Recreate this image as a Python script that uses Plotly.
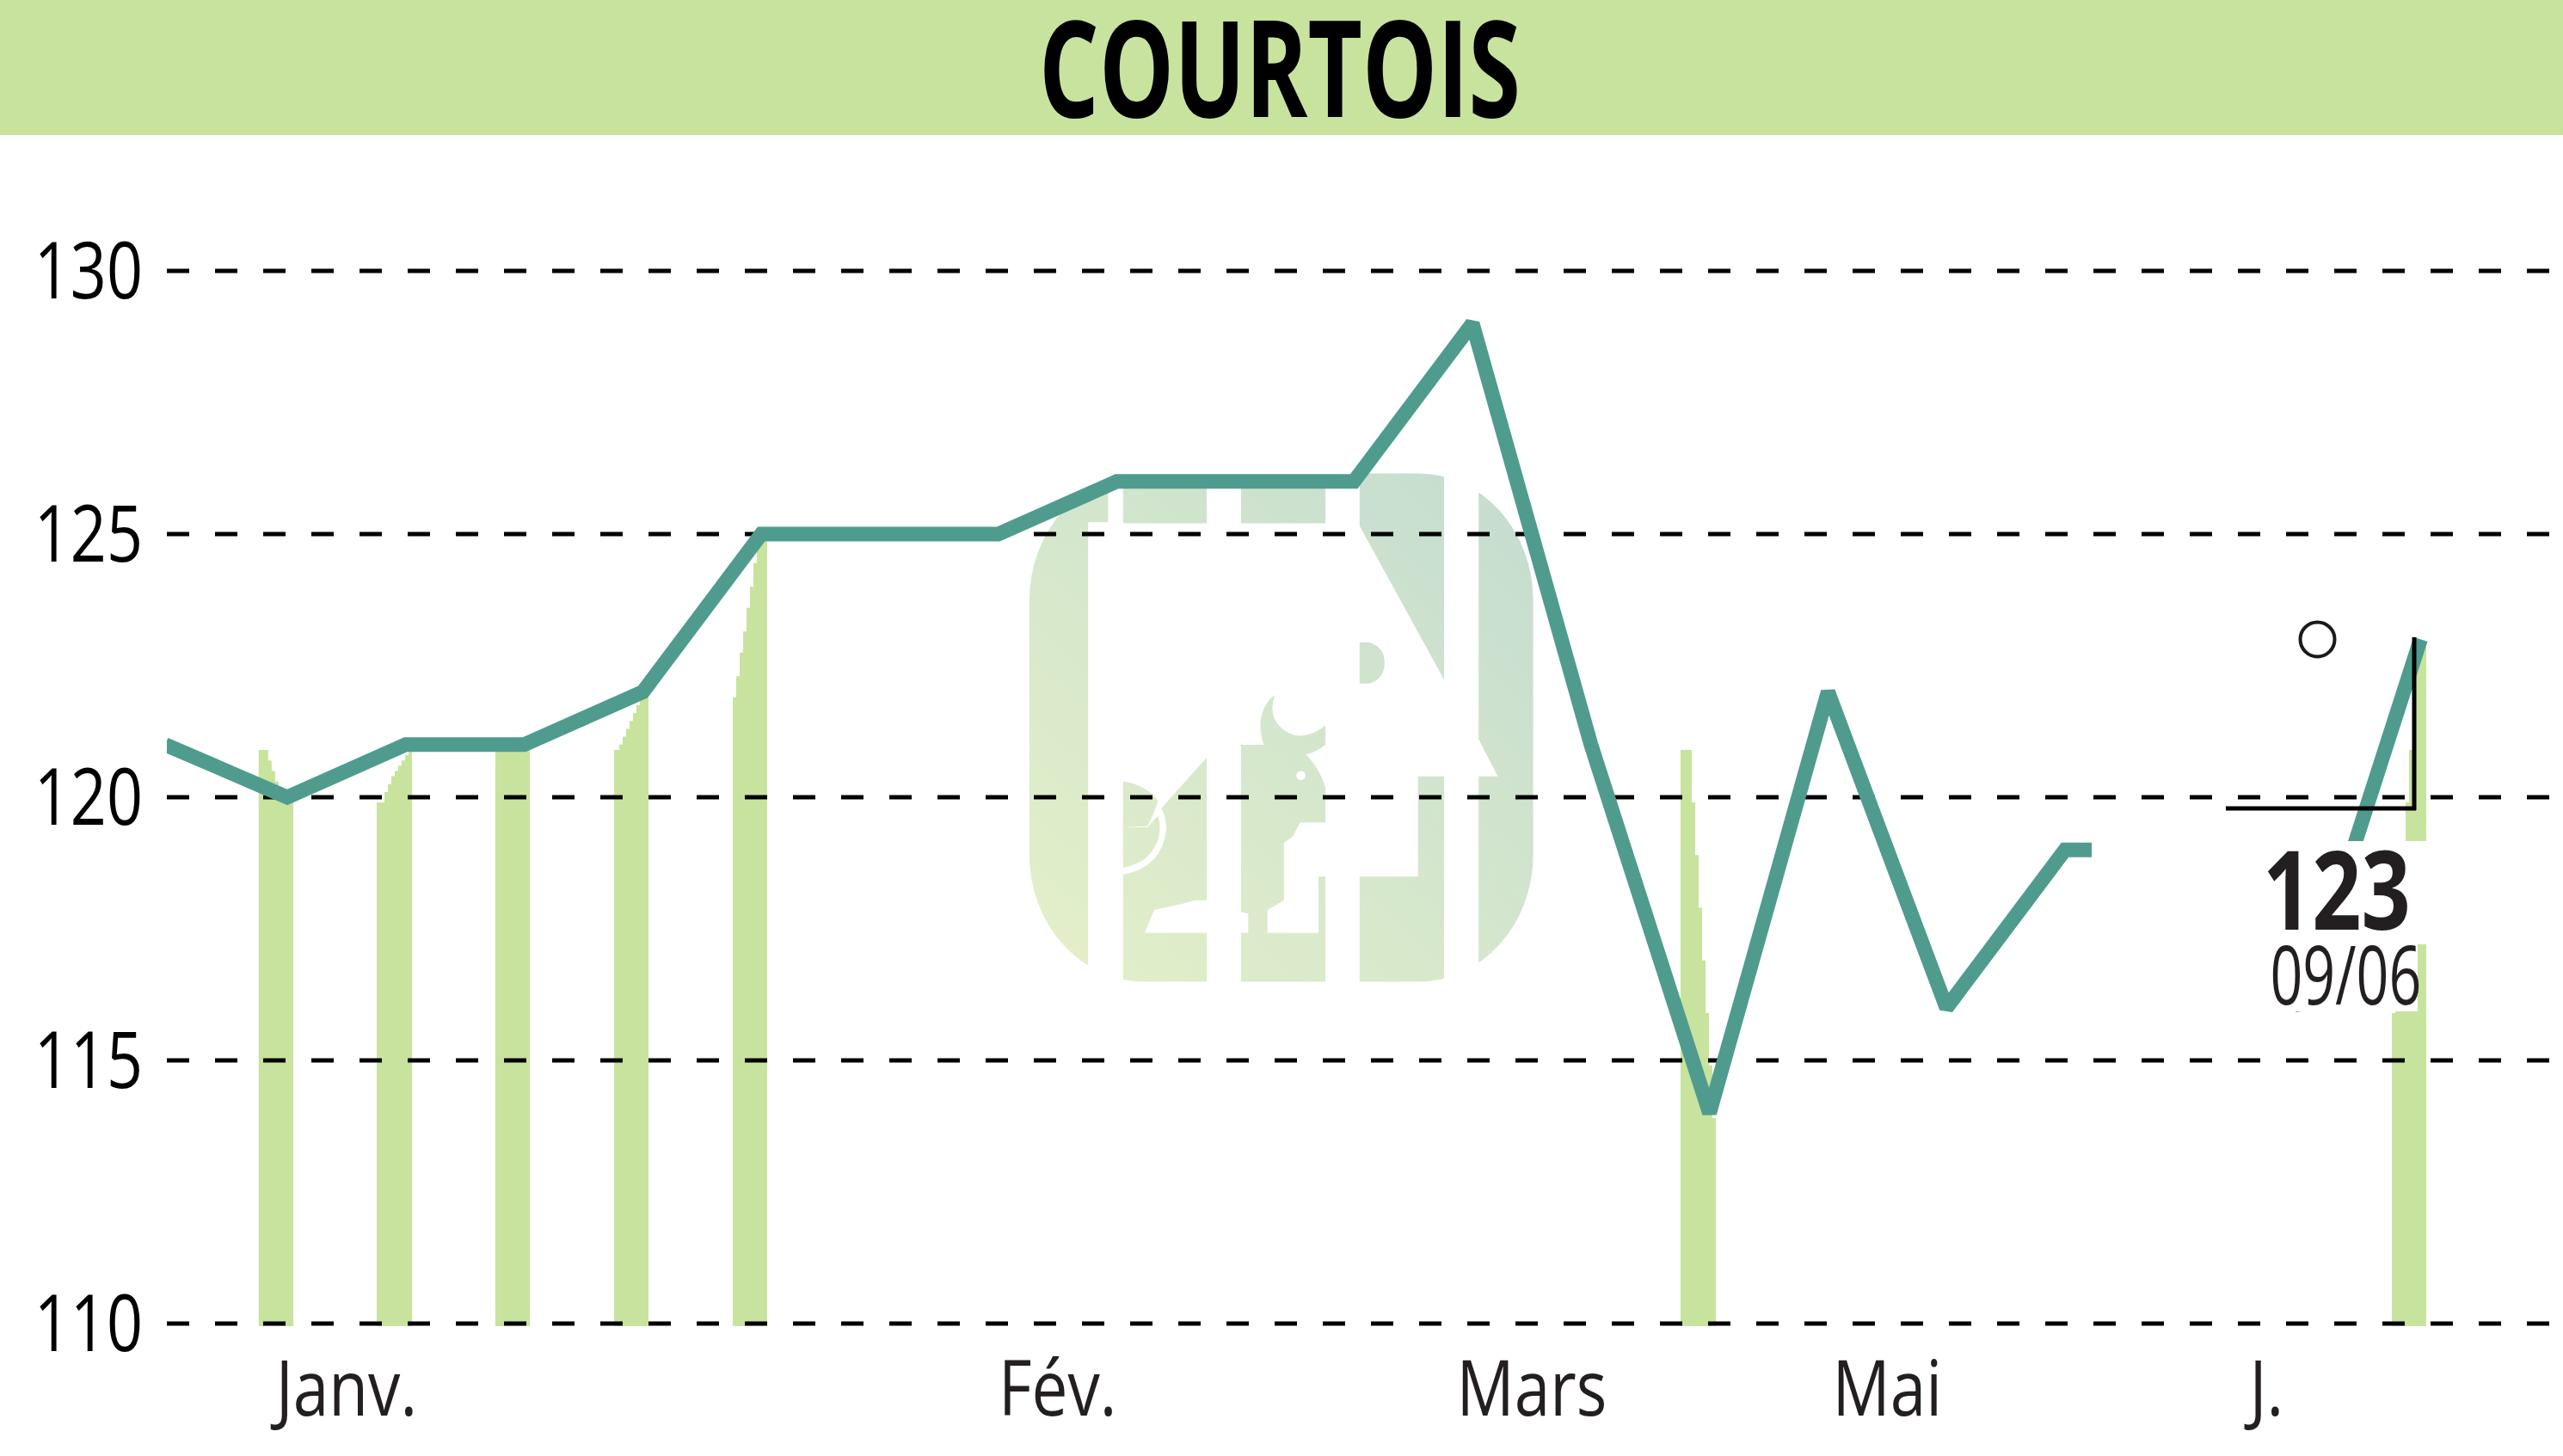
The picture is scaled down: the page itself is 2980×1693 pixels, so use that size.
import base64
import plotly.graph_objects as go

# ---- data ----
title_text = "COURTOIS"
line_index = [-0.03] + list(range(1, 20))
line_values = [121, 120, 121, 121, 122, 125, 125, 125, 126, 126, 126, 129, 121, 114, 122, 116, 119, 119, 116, 123]
grid_values = [110, 115, 120, 125, 130]
month_ticks = [1.5, 7.5, 11.5, 14.5, 17.7]
month_labels = ["Janv.", "Fév.", "Mars", "Mai", "J."]
# stepped stripes under the curve: step starts (index units), step tops, stripe end
stripe_x = [
    [0.759, 0.839, 0.868, 0.898, 0.927, 0.956, 0.985],
    [1.755, 1.820, 1.849, 1.878, 1.907, 1.936, 1.965, 1.994, 2.024],
    [2.755],
    [3.758, 3.801, 3.830, 3.859, 3.888, 3.917, 3.946, 3.975, 4.004],
    [4.759, 4.788, 4.817, 4.846, 4.875, 4.904, 4.933, 4.962],
    [12.756, 12.851, 12.880, 12.909, 12.938, 12.967, 12.996, 13.025],
    [18.758, 18.787, 18.816, 18.845, 18.874, 18.903, 18.932, 18.961],
]
stripe_top = [
    [120.9, 120.7, 120.5, 120.3, 120.15, 120, 119.9],
    [119.9, 120.1, 120.25, 120.4, 120.5, 120.6, 120.7, 120.8, 121],
    [121],
    [120.9, 121, 121.15, 121.3, 121.45, 121.6, 121.75, 121.9, 122],
    [121.9, 122.3, 122.75, 123.15, 123.6, 124, 124.45, 125],
    [120.9, 119.9, 118.9, 117.9, 116.9, 115.9, 114.9, 113.9],
    [115.9, 116.9, 117.9, 118.9, 119.9, 120.9, 121.9, 122.9],
]
stripe_end = [1.051, 2.053, 3.047, 4.048, 5.049, 13.054, 19.048]
last_value = "123"
last_date = "09/06"
high_marker_x = [18.13]
high_marker_y = [123]

# ---- page geometry ----
W, H = 2980, 1693
PX0, PX_STEP = 196.2, 137.8      # pixel of index 0, pixels per index
PY110, PY_UNIT = 1539.0, 61.2    # pixel of value 110, pixels per unit
LEFT, TOP, BOTTOM = 194, 157, 1542


def X(px):
    return (px - PX0) / PX_STEP


def Y(py):
    return 110 + (PY110 - py) / PY_UNIT


xr = [X(LEFT), X(W)]
yr = [Y(BOTTOM), Y(TOP)]

GREEN = "#C8E39E"
TEAL = "#4F9C8F"
FONT = "Open Sans"

# ---- watermark as inline SVG (drawn in a 1568 box covering 700x700 px) ----
wm_path = (
    # column A
    "M0 0H258V270H258V1568H0Z "
    "M258 240H310V130H258Z "
    # column B
    "M349 150H567V243H349Z "
    "M449 985L567 853V1225L535 1225L500 1235L430 1250L405 1310H567V1568H349V1158"
    "Q450 1140 462 1040Q460 1005 449 985Z "
    "M349 915Q410 925 440 965Q430 1000 412 1032L349 1035Z "
    "M349 1035H412L440 1005Q448 1030 442 1060Q425 1125 349 1140Z "
    # column C
    "M656 150H876V243H656Z "
    "M656 820H715Q700 770 712 735Q722 705 745 690Q725 740 760 775Q810 820 876 770V820"
    "Q850 840 825 845Q860 880 876 930V1022H810L790 1060L768 1075V1225L725 1250V1310H858V1163H876V1568H656V1310"
    "H675V1260L656 1255Z "
    # column D
    "M965 0H1185V650L965 250Z "
    "M965 553H990Q1030 565 1030 605Q1030 650 990 660H965Z "
    "M965 1163H1117V902H1185V1568H965Z "
    # column E
    "M1275 0H1568V1568H1275V902H1325L1275 805Z"
)
wm_svg = f"""<svg xmlns="http://www.w3.org/2000/svg" width="1568" height="1568" viewBox="0 0 1568 1568">
<defs><linearGradient id="g" gradientUnits="userSpaceOnUse" x1="105" y1="1437" x2="1417" y2="113">
<stop offset="0" stop-color="#E4F0C8"/><stop offset="1" stop-color="#C4DCD0"/></linearGradient>
<clipPath id="c"><rect x="105" y="113" width="1312" height="1324" rx="300" ry="330"/></clipPath></defs>
<g clip-path="url(#c)"><path d="{wm_path}" fill="url(#g)"/><circle cx="812" cy="900" r="12" fill="#fff"/></g></svg>"""
wm_uri = "data:image/svg+xml;base64," + base64.b64encode(wm_svg.encode()).decode()

fig = go.Figure()

# stripes under the curve
for sx, st, se in zip(stripe_x, stripe_top, stripe_end):
    fig.add_trace(go.Scatter(
        x=[sx[0]] + sx + [se, se, sx[0]],
        y=[yr[0]] + st + [st[-1], yr[0], yr[0]],
        mode="lines", line=dict(width=0, shape="hv"), fill="toself", fillcolor=GREEN,
        hoverinfo="skip", showlegend=False,
    ))

# dashed grid above stripes, below the curve
for g in grid_values:
    fig.add_trace(go.Scatter(
        x=xr, y=[g, g], mode="lines",
        line=dict(color="#000000", width=5, dash="26px,30px"),
        hoverinfo="skip", showlegend=False,
    ))

# price line
fig.add_trace(go.Scatter(
    x=line_index, y=line_values, mode="lines",
    line=dict(color=TEAL, width=17), cliponaxis=False, showlegend=False,
))

fig.add_trace(go.Scatter(
    x=high_marker_x, y=high_marker_y, mode="markers",
    marker=dict(symbol="circle-open", size=40, color="#1a1a1a", line=dict(width=4, color="#1a1a1a")),
    showlegend=False,
))

# white mask behind the last-value text (keeps line/stripes out)
mask = (
    f"M {X(2432)} {Y(978)} L {X(2822)} {Y(978)} L {X(2822)} {Y(1098)} L {X(2811)} {Y(1098)} "
    f"L {X(2811)} {Y(1176)} L {X(2432)} {Y(1176)} Z"
)

shapes = [
    dict(type="path", path=mask, xref="x", yref="y", fillcolor="#FFFFFF", line=dict(width=0), layer="above"),
    dict(type="rect", xref="paper", yref="paper", x0=-0.2, x1=1.0, y0=1.0, y1=1.2,
         fillcolor=GREEN, line=dict(width=0), layer="above"),
    dict(type="line", xref="x", yref="y", x0=X(2807), x1=X(2807), y0=Y(741), y1=Y(942),
         line=dict(color="#000000", width=5), layer="above"),
    dict(type="line", xref="x", yref="y", x0=X(2588), x1=X(2809), y0=Y(940), y1=Y(940),
         line=dict(color="#000000", width=5), layer="above"),
]

annotations = [
    dict(text=last_value, x=X(2717), y=Y(1031), xref="x", yref="y", showarrow=False,
         font=dict(family=FONT, size=127, weight=700, color="#231F20"), xanchor="center", yanchor="middle"),
    dict(text=last_date, x=X(2727), y=Y(1130), xref="x", yref="y", showarrow=False,
         font=dict(family=FONT, size=96, color="#231F20"), xanchor="center", yanchor="middle"),
]

fig.update_layout(
    width=W, height=H,
    margin=dict(l=LEFT, r=0, t=TOP, b=H - BOTTOM, pad=0),
    paper_bgcolor="#FFFFFF", plot_bgcolor="#FFFFFF",
    showlegend=False,
    title=dict(text=title_text, x=1488 / W, y=1 - 81 / H, xanchor="center", yanchor="middle",
               xref="container", yref="container",
               font=dict(family=FONT, size=157, weight=700, color="#000000")),
    shapes=shapes, annotations=annotations,
    images=[dict(source=wm_uri, xref="x", yref="y", x=X(1150), y=Y(500),
                 sizex=700 / PX_STEP, sizey=700 / PY_UNIT, xanchor="left", yanchor="top",
                 sizing="stretch", layer="below")],
    xaxis=dict(range=xr, showgrid=False, zeroline=False, showline=False,
               tickmode="array", tickvals=month_ticks, ticktext=month_labels,
               ticks="", ticklabelstandoff=13,
               tickfont=dict(family=FONT, size=90, color="#231F20")),
    yaxis=dict(range=yr, showgrid=False, zeroline=False, showline=False,
               tickmode="array", tickvals=grid_values, ticktext=[str(v) for v in grid_values],
               ticks="", ticklabelstandoff=27,
               tickfont=dict(family=FONT, size=92, color="#000000")),
)

# The reference uses a condensed face: narrow the real text glyphs to the widths it shows.
narrow_js = """
var widths = {'COURTOIS': 560, '123': 172, '09/06': 176};
document.querySelectorAll('.js-plotly-plot svg text').forEach(function (t) {
    var s = t.textContent.trim();
    if (!s) { return; }
    var len = t.getComputedTextLength();
    var ratio = t.closest('.xtick') ? 0.83 : 0.8;
    var target = widths[s] || len * ratio;
    t.setAttribute('textLength', target);
    t.setAttribute('lengthAdjust', 'spacingAndGlyphs');
});
document.body.style.margin = '0';
document.body.style.overflow = 'hidden';
"""
fig.write_html("out.html", post_script=narrow_js, config={"displayModeBar": False})
